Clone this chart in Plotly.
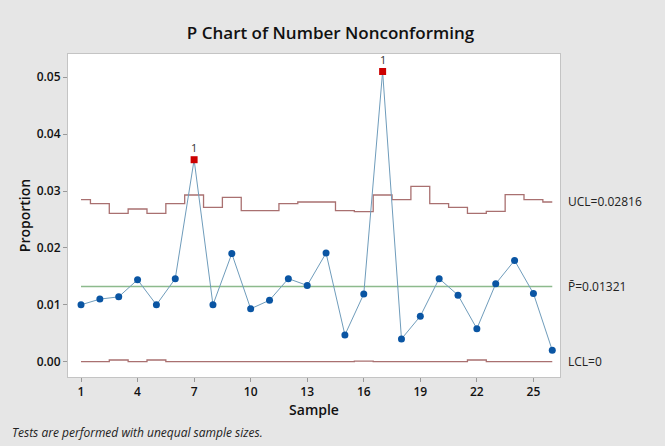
import plotly.graph_objects as go

samples = list(range(1, 27))
proportion = [0.0100, 0.0110, 0.0114, 0.0144, 0.0100, 0.0146, 0.0355, 0.0100, 0.0190, 0.0093,
              0.0108, 0.0146, 0.0134, 0.0191, 0.0047, 0.0119, 0.0510, 0.0040, 0.0080, 0.0146,
              0.0117, 0.0058, 0.0137, 0.0178, 0.0120, 0.0020]
ucl = [0.02847, 0.02777, 0.02608, 0.02684, 0.02608, 0.02777, 0.02930, 0.02713, 0.02889, 0.02654,
       0.02654, 0.02777, 0.02807, 0.02807, 0.02654, 0.02636, 0.02930, 0.02847, 0.03082, 0.02777,
       0.02713, 0.02608, 0.02643, 0.02935, 0.02847, 0.02807]
lcl = [0.0, 0.0, 0.0003, 0.0, 0.0003, 0.0, 0.0, 0.0, 0.0, 0.0,
       0.0, 0.0, 0.0, 0.0, 0.0, 0.0001, 0.0, 0.0, 0.0, 0.0,
       0.0, 0.0003, 0.0, 0.0, 0.0, 0.0]
p_bar = 0.01321
ucl_label = "UCL=0.02816"
p_label = "P\u0304=0.01321"
lcl_label = "LCL=0"
x_ticks = [1, 4, 7, 10, 13, 16, 19, 22, 25]
y_ticks = [0.00, 0.01, 0.02, 0.03, 0.04, 0.05]

FONT = "Open Sans"
limit_color = "#A97070"

out = [p > u for p, u in zip(proportion, ucl)]

fig = go.Figure()
fig.add_trace(go.Scatter(x=samples, y=ucl, mode="lines", line=dict(color=limit_color, width=1.3, shape="hvh"),
                         hoverinfo="skip", showlegend=False))
fig.add_trace(go.Scatter(x=samples, y=lcl, mode="lines", line=dict(color=limit_color, width=1.3, shape="hvh"),
                         hoverinfo="skip", showlegend=False))
fig.add_trace(go.Scatter(x=[samples[0], samples[-1]], y=[p_bar, p_bar], mode="lines",
                         line=dict(color="#8DBA8D", width=1.5), showlegend=False))
fig.add_trace(go.Scatter(x=samples, y=proportion, mode="lines", line=dict(color="#6F9CBB", width=1),
                         showlegend=False))
fig.add_trace(go.Scatter(
    x=samples, y=proportion, mode="markers",
    marker=dict(color=["#CC0000" if o else "#0A55A3" for o in out],
                symbol=["square" if o else "circle" for o in out], size=7),
    showlegend=False))

for s, p, o in zip(samples, proportion, out):
    if o:
        fig.add_annotation(x=s, y=p, xref="x", yref="y", text="1", showarrow=False,
                           yshift=12, font=dict(family=FONT, size=11, color="#333333"))

fig.update_layout(
    width=665, height=446,
    paper_bgcolor="#E6E6E6", plot_bgcolor="white",
    margin=dict(l=68, r=105, t=54, b=69),
    title=dict(text="P Chart of Number Nonconforming", x=0.497, xanchor="center", y=0.925, yanchor="middle",
               font=dict(family=FONT, size=17, color="#111111", weight=600)),
    font=dict(family=FONT, color="#111111"),
)
fig.update_xaxes(range=[0.31, 26.41], tickvals=x_ticks, ticks="outside", ticklen=4, tickcolor="#999999",
                 showgrid=False, zeroline=False, showline=True, mirror=True, linecolor="#C4C4C4",
                 tickfont=dict(family=FONT, size=12, weight=600),
                 title=dict(text="Sample", font=dict(family=FONT, size=14, weight=600), standoff=3))
fig.update_yaxes(range=[-0.00269, 0.05408], tickvals=y_ticks, tickformat=".2f", ticks="outside", ticklen=4,
                 tickcolor="#999999", showgrid=False, zeroline=False, showline=True, mirror=True,
                 linecolor="#C4C4C4", tickfont=dict(family=FONT, size=12, weight=600),
                 title=dict(text="Proportion", font=dict(family=FONT, size=14, weight=600), standoff=2))

for lab, yv in [(ucl_label, ucl[-1]), (p_label, p_bar), (lcl_label, lcl[-1])]:
    fig.add_annotation(x=1.0, xref="paper", xshift=6, y=yv, yref="y", text=lab, showarrow=False,
                       xanchor="left", yanchor="middle", font=dict(family=FONT, size=12, color="#222222"))

fig.add_annotation(x=-58 / 492, xref="paper", y=-55 / 323, yref="paper",
                   text="<i>Tests are performed with unequal sample sizes.</i>",
                   showarrow=False, xanchor="left", yanchor="middle",
                   font=dict(family=FONT, size=12, color="#222222"))

fig.write_html("out.html")
